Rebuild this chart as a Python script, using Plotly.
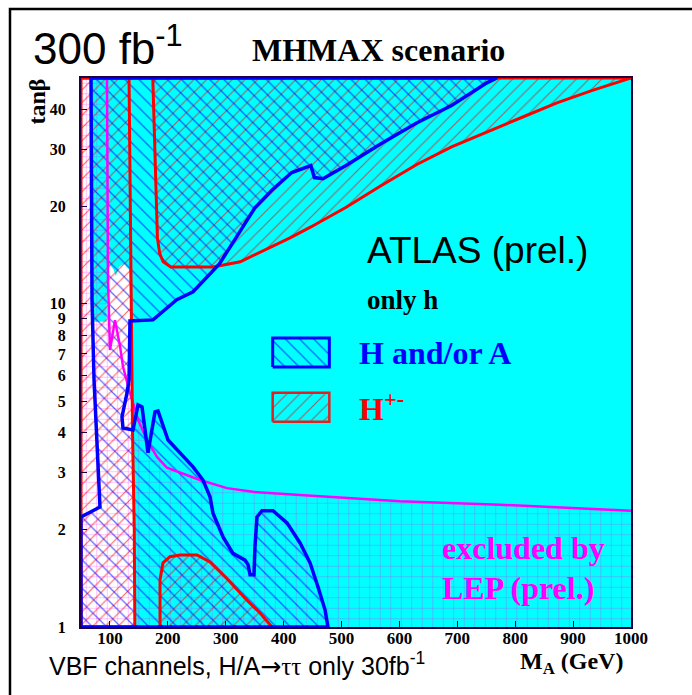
import plotly.graph_objects as go

# ---------------- data (M_A in GeV, tan beta) ----------------
x_ticks = [100, 200, 300, 400, 500, 600, 700, 800, 900, 1000]
y_ticks = [1, 2, 3, 4, 5, 6, 7, 8, 9, 10, 20, 30, 40]
x_range = [50, 1000]
y_range = [1, 50]

# region where nothing but cyan is seen (white area, low M_A)
white_m = [50, 50, 66.5, 68.5, 94, 95.5, 100, 106, 110, 116, 124, 133, 136, 138, 140, 143]
white_tb = [1, 50, 50, 8.8, 8.8, 12.6, 13.2, 12.8, 12.2, 13.0, 13.3, 12.8, 8.8, 5, 3, 1]

# LEP exclusion boundary (magenta)
lep_m = [94.9, 96.6, 100.0, 108.7, 117.4, 122.5, 134.6, 148.5, 164.0, 181.3, 198.5,
         221.0, 255.5, 302.2, 347.0, 428.3, 601.0, 774.0, 1000.0]
lep_tb = [50, 11.9, 7.2, 8.9, 7.4, 6.4, 5.3, 4.38, 3.79, 3.36, 3.11,
          3.00, 2.85, 2.69, 2.62, 2.56, 2.45, 2.39, 2.29]

# H+- discovery: low M_A band (right boundary)
hpm_low_m = [133, 135, 137, 139, 142, 143]
hpm_low_tb = [50, 20, 10, 4, 2, 1]

# H+- discovery: high tan beta region (lower boundary)
hpm_high_m = [174, 177, 180, 182, 186, 192, 205, 240, 278, 325, 368, 411, 447, 508,
              568, 630, 690, 751, 812, 872, 932, 1000]
hpm_high_tb = [50, 30, 20, 16, 14.3, 13.5, 13.0, 13.0, 13.0, 13.5, 14.7, 16.0, 17.3, 19.9,
               23.2, 27.0, 30.6, 34.1, 37.8, 41.9, 45.7, 50]

# H+- discovery: low tan beta island
hpm_blob_m = [186.5, 186.5, 191.6, 203.7, 221, 250.4, 272.8, 303.9, 336.7, 359.2, 379.9]
hpm_blob_tb = [1.0, 1.40, 1.58, 1.65, 1.67, 1.67, 1.59, 1.40, 1.21, 1.105, 1.0]

# H and/or A discovery: left boundary (bottom -> top)
ha_left_m = [50, 82.8, 77.6, 72.5, 69.0, 67.3]
ha_left_tb = [2.19, 2.35, 3.79, 5.82, 10.3, 50]

# H and/or A discovery: right boundary (top -> bottom)
ha_right_m = [768.6, 751, 690, 629.5, 568, 507.7, 468, 453, 447, 414, 380, 350, 319.5, 289,
              243.5, 215.3, 174.4, 134.6, 133, 129.5, 120.8, 122.5, 139.8, 148.5, 155.4,
              165.7, 177.8, 183, 200.3, 221, 243.5, 260.7, 272.8, 278, 295.3, 312.5, 333.3,
              338.5, 342, 348.8, 350.5, 354, 362.6, 381.6, 405.8, 428.3, 445.6, 459.4,
              471.5, 476.6]
ha_right_tb = [50, 48.3, 41.1, 36.3, 31.3, 26.8, 24.4, 24.6, 26.8, 25.5, 22.5, 19.8, 16.2, 13.3,
               10.9, 10.3, 8.92, 8.85, 5.82, 5.30, 4.47, 4.13, 4.07, 4.87, 4.80,
               3.46, 4.63, 4.66, 3.79, 3.46, 3.13, 2.85, 2.53, 2.25, 1.90, 1.69, 1.61,
               1.56, 1.45, 1.45, 1.77, 2.19, 2.29, 2.29, 2.10, 1.82, 1.58, 1.33,
               1.13, 1.0]

# ---------------- styles ----------------
CYAN = "#00FFFF"
RED = "#FF0000"
BLUE = "#0000FF"
MAG = "#FF00FF"
SERIF = "Liberation Serif"
SANS = "Liberation Sans"

x0, x1 = x_range
y0, y1 = y_range

fig = go.Figure()


def poly(xs, ys, pattern=None, fillcolor=None, line_color=None, line_width=0, name=""):
    fig.add_trace(go.Scatter(
        x=xs, y=ys, mode="lines", fill="toself", name=name,
        fillcolor=fillcolor if fillcolor else "rgba(0,0,0,0)",
        fillpattern=pattern,
        line=dict(color=line_color if line_color else "rgba(0,0,0,0)", width=line_width),
        hoverinfo="skip", showlegend=False))


def line(xs, ys, color, width):
    fig.add_trace(go.Scatter(x=xs, y=ys, mode="lines", line=dict(color=color, width=width),
                             hoverinfo="skip", showlegend=False))


grid_pat = dict(shape="+", fgcolor=MAG, fgopacity=0.45, size=10.5, solidity=0.1, fillmode="replace")
red_pat = dict(shape="/", fgcolor=RED, fgopacity=0.6, size=9, solidity=0.13, fillmode="replace")
blue_pat = dict(shape="\\", fgcolor=BLUE, fgopacity=0.6, size=10, solidity=0.13, fillmode="replace")

# white area
poly(white_m, white_tb, fillcolor="white")
# LEP exclusion (grid)
poly(lep_m + [x1, x0, x0], lep_tb + [y0, y0, y1], pattern=grid_pat)
# H+- regions
poly([x0] + hpm_low_m + [x0], [y1] + hpm_low_tb + [y0], pattern=red_pat)
poly(hpm_high_m, hpm_high_tb, pattern=red_pat)
poly(hpm_blob_m, hpm_blob_tb, pattern=red_pat)
# H and/or A region
poly([x0] + ha_left_m + ha_right_m + [x0], [y0] + ha_left_tb + ha_right_tb + [y0], pattern=blue_pat)

# boundaries
line(lep_m, lep_tb, MAG, 2.5)
line([x0, x0] + hpm_low_m + [x0], [y0, y1] + hpm_low_tb + [y0], RED, 3)
line(hpm_high_m, hpm_high_tb, RED, 3)
line([x0, x1], [y1, y1], RED, 3)
line(hpm_blob_m, hpm_blob_tb, RED, 3)
line([x0] + ha_left_m + ha_right_m + [x0], [y0] + ha_left_tb + ha_right_tb + [y0], BLUE, 3.5)

# legend keys (drawn in a [0,1] overlay frame)
box_x = [0.3485, 0.4515, 0.4515, 0.3485, 0.3485]
blue_box_y = [0.4736, 0.4736, 0.5264, 0.5264, 0.4736]
red_box_y = [0.3740, 0.3740, 0.4268, 0.4268, 0.3740]
for by, pat, col, w in [(blue_box_y, blue_pat, BLUE, 3), (red_box_y, red_pat, "#DD2222", 2.5)]:
    fig.add_trace(go.Scatter(x=box_x, y=by, mode="lines", fill="toself", fillcolor="rgba(0,0,0,0)",
                             fillpattern=pat, line=dict(color=col, width=w),
                             xaxis="x2", yaxis="y2", hoverinfo="skip", showlegend=False))

fig.update_layout(
    width=692, height=695,
    margin=dict(l=81, r=61, t=78, b=68),
    paper_bgcolor="white", plot_bgcolor=CYAN,
    xaxis=dict(range=x_range, tickvals=x_ticks, ticktext=[str(v) for v in x_ticks],
               showgrid=False, zeroline=False, ticks="inside", ticklen=6, tickcolor="#200040",
               showline=True, linecolor="#200040", linewidth=2, mirror=True,
               tickfont=dict(family=SERIF, size=17, color="black", weight="bold"),
               ticklabelstandoff=-5),
    yaxis=dict(type="log", range=[0, 1.69897], tickvals=y_ticks, ticktext=[str(v) for v in y_ticks],
               showgrid=False, zeroline=False, ticks="inside", ticklen=6, tickcolor="#200040",
               showline=True, linecolor="#200040", linewidth=2, mirror=True,
               tickfont=dict(family=SERIF, size=16, color="black", weight="bold"),
               ticklabelstandoff=10),
    xaxis2=dict(overlaying="x", anchor="y2", range=[0, 1], visible=False, fixedrange=True),
    yaxis2=dict(overlaying="y", anchor="x2", range=[0, 1], visible=False, fixedrange=True),
    showlegend=False,
)

ann = [
    dict(text="300 fb<sup>-1</sup>", x=-0.0909, y=1.060, xanchor="left", yanchor="middle",
         font=dict(family=SANS, size=44, color="black")),
    dict(text="<b>MHMAX scenario</b>", x=0.3073, y=1.051, xanchor="left", yanchor="middle",
         font=dict(family=SERIF, size=32, color="black")),
    dict(text="<b>tanβ</b>", x=-0.0800, y=0.957, xanchor="center", yanchor="middle", textangle=-90,
         font=dict(family=SERIF, size=24, color="black")),
    dict(text="ATLAS (prel.)", x=0.517, y=0.6867, xanchor="left", yanchor="middle",
         font=dict(family=SANS, size=37, color="black")),
    dict(text="<b>only h</b>", x=0.5164, y=0.5956, xanchor="left", yanchor="middle",
         font=dict(family=SERIF, size=27, color="black")),
    dict(text="<b>H and/or A</b>", x=0.5018, y=0.4991, xanchor="left", yanchor="middle",
         font=dict(family=SERIF, size=32, color=BLUE)),
    dict(text="<b>H<sup>+-</sup></b>", x=0.5018, y=0.4007, xanchor="left", yanchor="middle",
         font=dict(family=SERIF, size=32, color=RED)),
    dict(text="<b>excluded by</b>", x=0.6527, y=0.1439, xanchor="left", yanchor="middle",
         font=dict(family=SERIF, size=32, color=MAG)),
    dict(text="<b>LEP (prel.)</b>", x=0.6527, y=0.0710, xanchor="left", yanchor="middle",
         font=dict(family=SERIF, size=32, color=MAG)),
    dict(text='VBF channels, H/A<span style="font-family:DejaVu Sans">→</span>'
              '<span style="font-family:Liberation Serif">ττ</span> only 30fb<sup>-1</sup>',
         x=-0.0618, y=-0.0692,
         xanchor="left", yanchor="middle", font=dict(family=SANS, size=25, color="black")),
    dict(text="<b>M<sub>A</sub> (GeV)</b>", x=0.795, y=-0.0656, xanchor="left", yanchor="middle",
         font=dict(family=SERIF, size=24, color="black")),
]
for a in ann:
    a.update(xref="paper", yref="paper", showarrow=False)
    fig.add_annotation(**a)

fig.add_shape(type="path", xref="paper", yref="paper",
              path="M -0.1291,-0.2 L -0.1291,1.1257 L 1.2,1.1257",
              line=dict(color="black", width=2.5))

fig.write_html("out.html")
